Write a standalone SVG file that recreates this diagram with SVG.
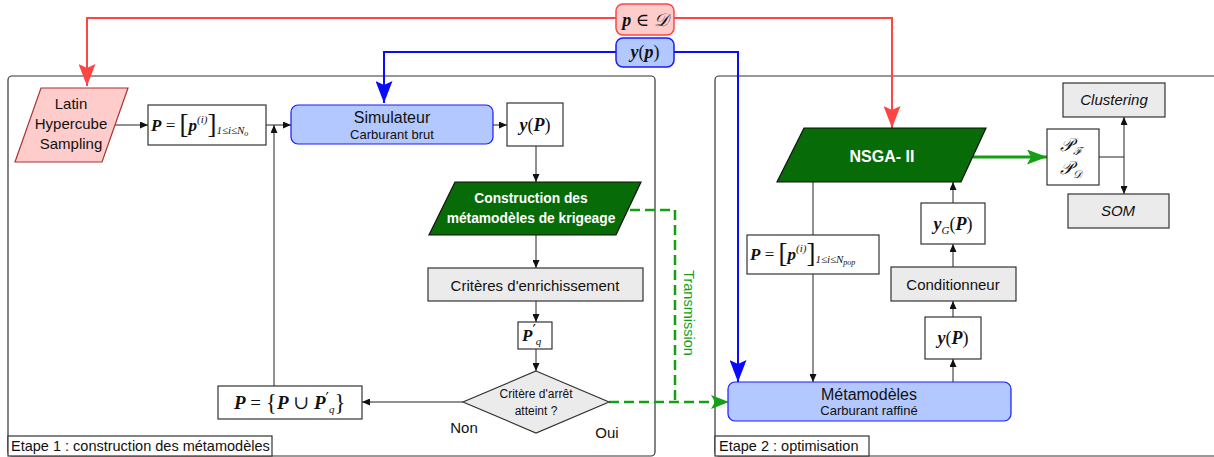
<svg xmlns="http://www.w3.org/2000/svg" width="1214" height="457" viewBox="0 0 1214 457">
<defs>
<style>
.sans{font-family:"Liberation Sans","DejaVu Sans",sans-serif;fill:#111}
.math{font-family:"Liberation Serif","DejaVu Serif",serif;fill:#111}
.bi{font-weight:bold;font-style:italic}
.pr{font-family:"DejaVu Sans",sans-serif;font-size:15px;font-style:normal;font-weight:normal}
.box{fill:#fff;stroke:#333;stroke-width:1.2}
.gray{fill:#ebebeb;stroke:#333;stroke-width:1.2}
.blue{fill:#b3c8ff;stroke:#1a1aff;stroke-width:1.2}
.pink{fill:#ffcccc;stroke:#ff4444;stroke-width:1.5}
.dgreen{fill:#076b07;stroke:#111;stroke-width:1.2}
.cont{fill:none;stroke:#333;stroke-width:1.2}
.ln{fill:none;stroke:#222;stroke-width:1}
</style>
<marker id="a" markerUnits="userSpaceOnUse" markerWidth="9" markerHeight="7" refX="8" refY="3.5" orient="auto-start-reverse"><path d="M0,0 L8,3.5 L0,7 z" fill="#111"/></marker>
<marker id="ar" markerUnits="userSpaceOnUse" markerWidth="23" markerHeight="17" refX="22" refY="8.5" orient="auto"><path d="M0,0 L22,8.5 L0,17 L4,8.5 z" fill="#ff4444"/></marker>
<marker id="ab" markerUnits="userSpaceOnUse" markerWidth="23" markerHeight="17" refX="22" refY="8.5" orient="auto"><path d="M0,0 L22,8.5 L0,17 L4,8.5 z" fill="#0a0aff"/></marker>
<marker id="ag" markerUnits="userSpaceOnUse" markerWidth="21" markerHeight="15" refX="20" refY="7.5" orient="auto"><path d="M0,0 L20,7.5 L0,15 L4,7.5 z" fill="#14a014"/></marker>
<marker id="agd" markerUnits="userSpaceOnUse" markerWidth="19" markerHeight="15" refX="18" refY="7" orient="auto"><path d="M0,0 L18,7 L0,14 L4,7 z" fill="#14a014"/></marker>
</defs>
<rect width="1214" height="457" fill="#fff"/>

<g id="containers">
<rect class="cont" x="8" y="76" width="647" height="380" rx="4"/>
<rect class="cont" x="715" y="76" width="520" height="380" rx="4"/>
<rect class="box" x="8" y="436" width="264" height="20"/>
<text class="sans" x="11" y="451" font-size="14.5">Etape 1 : construction des métamodèles</text>
<rect class="box" x="715" y="436" width="154" height="20"/>
<text class="sans" x="719" y="451" font-size="14.5">Etape 2 : optimisation</text>
</g>

<g id="connectors">
<path d="M616,18 H87 V86" fill="none" stroke="#ff4444" stroke-width="2" marker-end="url(#ar)"/>
<path d="M674,18 H892 V128" fill="none" stroke="#ff4444" stroke-width="2" marker-end="url(#ar)"/>
<path d="M616,52 H384 V103" fill="none" stroke="#0a0aff" stroke-width="2" marker-end="url(#ab)"/>
<path d="M674,52 H738 V382" fill="none" stroke="#0a0aff" stroke-width="2" marker-end="url(#ab)"/>
<path class="ln" d="M115,125 H148" marker-end="url(#a)"/>
<path class="ln" d="M266,125 H291" marker-end="url(#a)"/>
<path class="ln" d="M493,125 H507" marker-end="url(#a)"/>
<path class="ln" d="M536,146 V182" marker-end="url(#a)"/>
<path class="ln" d="M536,235 V268" marker-end="url(#a)"/>
<path class="ln" d="M536,301 V322" marker-end="url(#a)"/>
<path class="ln" d="M536,349 V371" marker-end="url(#a)"/>
<path class="ln" d="M463,402 H362" marker-end="url(#a)"/>
<path class="ln" d="M274,386 V125" marker-end="url(#a)"/>
<path d="M630,210 H675 V402" fill="none" stroke="#14a014" stroke-width="2.5" stroke-dasharray="10,5"/>
<path d="M609,402 H729" fill="none" stroke="#14a014" stroke-width="2.5" stroke-dasharray="10,5" marker-end="url(#agd)"/>
<text x="684" y="313" font-family="Liberation Sans, DejaVu Sans, sans-serif" font-size="14.5" fill="#14a014" text-anchor="middle" transform="rotate(90 684 313)">Transmission</text>
<path d="M973,157 H1047" fill="none" stroke="#14a014" stroke-width="3" marker-end="url(#ag)"/>
<path class="ln" d="M1099,157 H1124"/>
<path class="ln" d="M1124,117 V194" marker-start="url(#a)" marker-end="url(#a)"/>
<path class="ln" d="M813,182 V235"/>
<path class="ln" d="M813,274 V382" marker-end="url(#a)"/>
<path class="ln" d="M953,382 V359" marker-end="url(#a)"/>
<path class="ln" d="M953,317 V301" marker-end="url(#a)"/>
<path class="ln" d="M953,267 V244" marker-end="url(#a)"/>
<path class="ln" d="M953,203 V182" marker-end="url(#a)"/>
</g>

<g id="label-pD">
<rect class="pink" x="616" y="4" width="58" height="31" rx="7"/>
<text class="math" x="645" y="26" font-size="18" text-anchor="middle"><tspan class="bi">p</tspan> ∈ <tspan font-style="italic">𝒟</tspan></text>
</g>
<g id="label-yp">
<rect x="616" y="38" width="58" height="29" rx="7" fill="#b3c8ff" stroke="#1a1aff" stroke-width="1.5"/>
<text class="math" x="645" y="58" font-size="18" text-anchor="middle"><tspan class="bi">y</tspan>(<tspan class="bi">p</tspan>)</text>
</g>

<g id="lhs">
<polygon points="41,88 128,88 102,162 15,162" fill="#ffcccc" stroke="#a33" stroke-width="1.2"/>
<text class="sans" x="71" y="109" font-size="15" text-anchor="middle">Latin</text>
<text class="sans" x="71" y="129" font-size="15" text-anchor="middle">Hypercube</text>
<text class="sans" x="71" y="149" font-size="15" text-anchor="middle">Sampling</text>
</g>

<g id="P0">
<rect class="box" x="148" y="105" width="118" height="40"/>
<text class="math" x="151" y="131" font-size="17"><tspan class="bi">P</tspan> = <tspan font-size="27" dy="2">[</tspan><tspan class="bi" dy="-2">p</tspan><tspan font-size="11" dy="-8" font-style="italic">(i)</tspan><tspan font-size="27" dy="10">]</tspan><tspan font-size="11" dy="1" font-style="italic">1≤i≤N</tspan><tspan font-size="8" dy="2" font-style="italic">o</tspan></text>
</g>

<g id="simulateur">
<rect class="blue" x="291" y="105" width="202" height="39" rx="7"/>
<text class="sans" x="392" y="123" font-size="16" text-anchor="middle">Simulateur</text>
<text class="sans" x="392" y="139" font-size="13" text-anchor="middle">Carburant brut</text>
</g>

<g id="yP1">
<rect class="box" x="507" y="103" width="56" height="43"/>
<text class="math" x="535" y="131" font-size="18" text-anchor="middle"><tspan class="bi">y</tspan>(<tspan class="bi">P</tspan>)</text>
</g>

<g id="construction">
<polygon class="dgreen" points="455,182 641,182 616,235 429,235"/>
<text class="sans" x="531" y="203" font-size="13.8" font-weight="bold" text-anchor="middle" style="fill:#fff">Construction des</text>
<text class="sans" x="531" y="223" font-size="13.8" font-weight="bold" text-anchor="middle" style="fill:#fff">métamodèles de krigeage</text>
</g>

<g id="criteres">
<rect class="gray" x="428" y="268" width="215" height="33"/>
<text class="sans" x="535" y="291" font-size="15" text-anchor="middle">Critères d'enrichissement</text>
</g>

<g id="Pq">
<rect class="box" x="518" y="322" width="34" height="27"/>
<text class="math" x="522" y="341" font-size="17"><tspan class="bi">P</tspan><tspan class="pr" dy="-5">′</tspan><tspan font-size="11" font-style="italic" dy="9">q</tspan></text>
</g>

<g id="arret">
<polygon class="gray" points="536,371 609,402 536,433 463,402"/>
<text class="sans" x="536" y="398" font-size="12" text-anchor="middle">Critère d'arrêt</text>
<text class="sans" x="536" y="415" font-size="12" text-anchor="middle">atteint ?</text>
<text class="sans" x="464" y="433" font-size="15" text-anchor="middle">Non</text>
<text class="sans" x="607" y="438" font-size="15" text-anchor="middle">Oui</text>
</g>

<g id="Punion">
<rect class="box" x="218" y="386" width="144" height="33"/>
<text class="math" x="234" y="409" font-size="19"><tspan class="bi">P</tspan> = <tspan font-size="23" dy="1">{</tspan><tspan class="bi" dy="-1">P</tspan> ∪ <tspan class="bi">P</tspan><tspan class="pr" dy="-5">′</tspan><tspan font-size="11" font-style="italic" dy="9">q</tspan><tspan font-size="23" dy="-3">}</tspan></text>
</g>

<g id="nsga">
<polygon class="dgreen" points="804,128 986,128 961,182 777,182"/>
<text class="sans" x="882" y="162" font-size="16" font-weight="bold" text-anchor="middle" style="fill:#fff">NSGA- II</text>
</g>

<g id="PF">
<rect class="box" x="1047" y="129" width="52" height="56"/>
<text class="math" x="1071" y="151" font-size="18" text-anchor="middle" font-style="italic">𝒫<tspan font-size="11" dy="4">ℱ</tspan></text>
<text class="math" x="1071" y="174" font-size="18" text-anchor="middle" font-style="italic">𝒫<tspan font-size="11" dy="4">𝒟</tspan></text>
</g>

<g id="clustering">
<rect class="gray" x="1063" y="83" width="102" height="34"/>
<text class="sans" x="1114" y="105" font-size="15" font-style="italic" text-anchor="middle">Clustering</text>
</g>
<g id="som">
<rect class="gray" x="1068" y="194" width="101" height="34"/>
<text class="sans" x="1118" y="216" font-size="15" font-style="italic" text-anchor="middle">SOM</text>
</g>

<g id="Ppop">
<rect class="box" x="747" y="235" width="132" height="39"/>
<text class="math" x="750" y="260" font-size="17"><tspan class="bi">P</tspan> = <tspan font-size="27" dy="2">[</tspan><tspan class="bi" dy="-2">p</tspan><tspan font-size="11" dy="-8" font-style="italic">(i)</tspan><tspan font-size="27" dy="10">]</tspan><tspan font-size="11" dy="1" font-style="italic">1≤i≤N</tspan><tspan font-size="8" dy="2" font-style="italic">pop</tspan></text>
</g>

<g id="yG">
<rect class="box" x="921" y="203" width="64" height="41"/>
<text class="math" x="953" y="230" font-size="18" text-anchor="middle"><tspan class="bi">y</tspan><tspan font-size="11" dy="4" font-style="italic">G</tspan><tspan dy="-4">(</tspan><tspan class="bi">P</tspan>)</text>
</g>

<g id="conditionneur">
<rect class="gray" x="891" y="267" width="125" height="34"/>
<text class="sans" x="953" y="290" font-size="15" text-anchor="middle">Conditionneur</text>
</g>

<g id="yP2">
<rect class="box" x="925" y="317" width="56" height="42"/>
<text class="math" x="953" y="344" font-size="18" text-anchor="middle"><tspan class="bi">y</tspan>(<tspan class="bi">P</tspan>)</text>
</g>

<g id="metamodeles">
<rect class="blue" x="728" y="382" width="283" height="39" rx="7"/>
<text class="sans" x="869" y="400" font-size="16" text-anchor="middle">Métamodèles</text>
<text class="sans" x="869" y="415" font-size="13" text-anchor="middle">Carburant raffiné</text>
</g>
</svg>
